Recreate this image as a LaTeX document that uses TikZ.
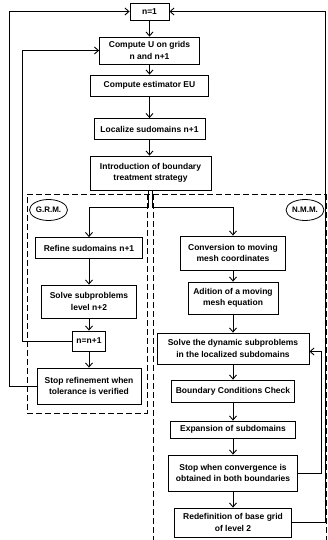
\documentclass[tikz,border=0pt]{standalone}
\usepackage{fontspec}
\setmainfont{Liberation Sans}
\usetikzlibrary{arrows.meta,shapes.geometric}
\begin{document}
\begin{tikzpicture}[x=1pt,y=-1pt,
  box/.style={draw, line width=0.8pt, align=center, inner sep=1pt,
    font=\bfseries\fontsize{8.5}{11.5}\selectfont},
  arr/.style={line width=0.6pt, -{Straight Barb[length=4pt,width=7pt,line width=0.9pt]}},
  region/.style={line width=0.6pt, dash pattern=on 6pt off 3pt},
  tag/.style={draw, ellipse, line width=0.8pt, inner sep=0pt, minimum width=38pt,
    minimum height=21pt, font=\bfseries\fontsize{8}{10}\selectfont}]
\useasboundingbox (0,0) rectangle (327,540);
% regions
\draw[region] (147,194) -- (147,413) -- (27,413) -- (27,194);
\draw[region] (27,194) -- (326,194);
\draw[region] (153,194) -- (153,540);
\draw[region] (326,194) -- (326,540);
% top column
\node[box, minimum width=39pt, minimum height=17pt] (n1) at (149.5,11.5) {n=1};
\node[box, minimum width=100pt, minimum height=27pt] (cu) at (149.5,50.5) {Compute U on grids\\ n and n+1};
\node[box, minimum width=118pt, minimum height=21pt] (ce) at (149.5,85.5) {Compute estimator EU};
\node[box, minimum width=111pt, minimum height=21pt] (loc) at (149.5,129) {Localize sudomains n+1};
\node[box, minimum width=121pt, minimum height=34pt] (intro) at (150.5,173) {Introduction of boundary\\ treatment strategy};
% left column
\node[tag] (grm) at (48.5,210) {G.R.M.};
\node[box, minimum width=107pt, minimum height=21pt] (refine) at (89,248) {Refine sudomains n+1};
\node[box, minimum width=95pt, minimum height=33pt] (solve) at (89,301.5) {Solve subproblems\\ level n+2};
\node[box, minimum width=33pt, minimum height=20pt] (nn) at (89,341) {n=n+1};
\node[box, minimum width=104pt, minimum height=36pt] (stopref) at (89,386) {Stop refinement when\\ tolerance is verified};
% right column
\node[tag] (nmm) at (305,210) {N.M.M.};
\node[box, minimum width=105pt, minimum height=34pt] (conv) at (233,253) {Conversion to moving\\ mesh coordinates};
\node[box, minimum width=90pt, minimum height=32pt] (adit) at (233,298) {Adition of a moving\\ mesh equation};
\node[box, minimum width=152pt, minimum height=31pt] (dyn) at (233,348.5) {Solve the dynamic subproblems\\ in the localized subdomains};
\node[box, minimum width=123pt, minimum height=22pt] (bcc) at (233,391) {Boundary Conditions Check};
\node[box, minimum width=125pt, minimum height=17pt] (exp) at (233,429.5) {Expansion of subdomains};
\node[box, minimum width=129pt, minimum height=36pt] (stopc) at (233,473) {Stop when convergence is\\ obtained in both boundaries};
\node[box, minimum width=117pt, minimum height=29pt] (redef) at (233,522.5) {Redefinition of base grid\\ of level 2};
% vertical arrows
\foreach \a/\b in {n1/cu, cu/ce, ce/loc, loc/intro, refine/solve, solve/nn, nn/stopref,
  conv/adit, adit/dyn, dyn/bcc, bcc/exp, exp/stopc, stopc/redef}
  \draw[arr] (\a.south) -- (\a.south |- \b.north);
% branch
\coordinate (brk) at (0,207);
\draw[arr] ([xshift=-2pt]intro.south) -- ([xshift=-2pt]intro.south |- brk) -| (refine.north);
\draw[arr] ([xshift=2pt]intro.south) -- ([xshift=2pt]intro.south |- brk) -| (conv.north);
% loops
\coordinate (L1) at (22,0);
\coordinate (L2) at (9,0);
\coordinate (R1) at (321,0);
\coordinate (R2) at (325.5,0);
\draw[arr] (nn.west) -- (nn.west -| L1) |- (cu.west);
\draw[arr] (stopref.west) -- (stopref.west -| L2) |- (n1.west);
\draw[arr] (stopc.east) -- (stopc.east -| R1) |- ([yshift=-3pt]dyn.east);
\draw[arr] (redef.east) -- (redef.east -| R2) |- (n1.east);
\end{tikzpicture}
\end{document}
